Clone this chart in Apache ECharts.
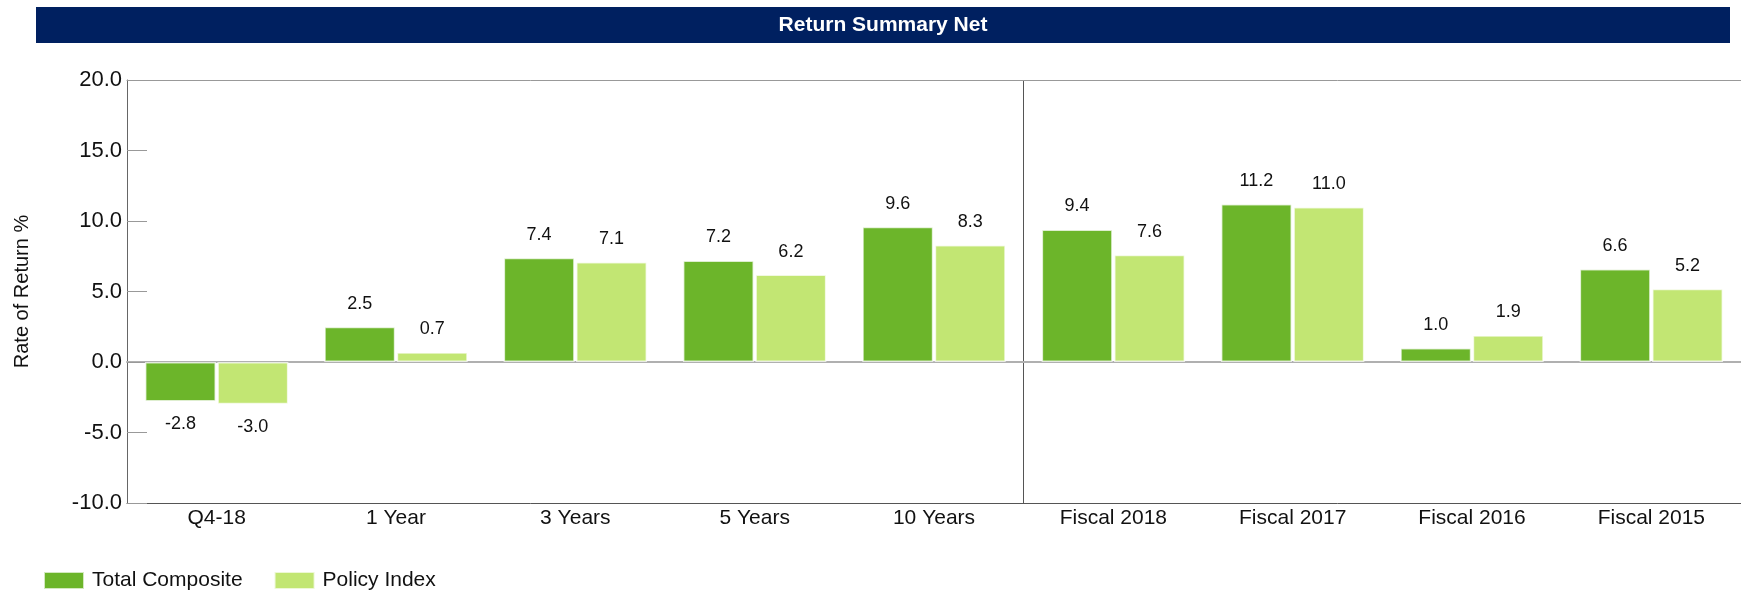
<!DOCTYPE html>
<html>
<head>
<meta charset="utf-8">
<script src="https://cdn.jsdelivr.net/npm/echarts@6/dist/echarts.min.js"></script>
<style>
html,body{margin:0;padding:0;background:#fff;}
#chart{width:1741px;height:593px;}
</style>
</head>
<body>
<div id="chart"></div>
<script>
const categories = ['Q4-18', '1 Year', '3 Years', '5 Years', '10 Years', 'Fiscal 2018', 'Fiscal 2017', 'Fiscal 2016', 'Fiscal 2015'];
const totalComposite = [-2.8, 2.5, 7.4, 7.2, 9.6, 9.4, 11.2, 1.0, 6.6];
const policyIndex = [-3.0, 0.7, 7.1, 6.2, 8.3, 7.6, 11.0, 1.9, 5.2];
const seriesNames = ['Total Composite', 'Policy Index'];
const titleText = 'Return Summary Net';
const yAxisName = 'Rate of Return %';
// separator drawn between the trailing-period group (first 5) and fiscal-year group
const separatorGroupSize = 5;

const FONT = "'Liberation Sans', Arial, sans-serif";
const chart = echarts.init(document.getElementById('chart'));

const labelCfg = {
  show: true,
  position: 'outside',
  distance: 14,
  fontFamily: FONT,
  fontSize: 18,
  color: '#111',
  formatter: p => p.value.toFixed(1)
};

chart.setOption({
  animation: false,
  backgroundColor: '#fff',
  graphic: [
    { type: 'rect', shape: { x: 36, y: 7, width: 1694, height: 36 }, style: { fill: '#002060' }, z: 10 },
    { type: 'text', x: 883, y: 25, style: { text: titleText, fill: '#fff', font: "bold 21px 'Liberation Sans', Arial, sans-serif", textAlign: 'center', textVerticalAlign: 'middle' }, z: 11 }
  ],
  legend: {
    left: 43,
    top: 570,
    padding: 0,
    itemWidth: 40,
    itemHeight: 17,
    itemGap: 31,
    icon: 'rect',
    textStyle: { fontFamily: FONT, fontSize: 21, color: '#111', padding: [0, 0, 0, 3] },
    data: seriesNames
  },
  grid: { left: 127, top: 80, width: 1620, height: 423 },
  xAxis: [
    {
      type: 'category',
      data: categories,
      position: 'bottom',
      axisLine: { onZero: false, lineStyle: { color: '#555', width: 1 } },
      axisTick: { show: false },
      axisLabel: { fontFamily: FONT, fontSize: 21, color: '#111', margin: 5 },
      splitLine: { show: false }
    },
    {
      type: 'category',
      data: categories,
      position: 'top',
      axisLine: { onZero: false, lineStyle: { color: '#999', width: 1 } },
      axisTick: { show: false },
      axisLabel: { show: false },
      splitLine: { show: false }
    },
    {
      type: 'category',
      data: categories,
      axisLine: { onZero: true, lineStyle: { color: '#b0b0b0', width: 2 } },
      axisTick: { show: false },
      axisLabel: { show: false },
      splitLine: { show: false }
    },
    {
      type: 'value',
      min: 0,
      max: categories.length,
      interval: separatorGroupSize,
      show: true,
      position: 'bottom',
      axisLine: { show: false, onZero: false },
      axisTick: { show: false },
      axisLabel: { show: false },
      splitLine: { show: true, lineStyle: { color: '#555', width: 1 } }
    }
  ],
  yAxis: {
    type: 'value',
    min: -10,
    max: 20,
    interval: 5,
    name: yAxisName,
    nameLocation: 'middle',
    nameRotate: 90,
    nameGap: 95,
    nameTextStyle: { fontFamily: FONT, fontSize: 20, color: '#111' },
    axisLine: { show: true, lineStyle: { color: '#666', width: 1 } },
    axisTick: { show: true, inside: true, length: 20, lineStyle: { color: '#999', width: 1 } },
    axisLabel: { fontFamily: FONT, fontSize: 22, color: '#111', margin: 5, formatter: v => v.toFixed(1) },
    splitLine: { show: false }
  },
  series: [
    {
      name: seriesNames[0],
      type: 'bar',
      data: totalComposite,
      barWidth: 71,
      barGap: '2%',
      itemStyle: { color: '#6CB52A', borderColor: 'rgba(255,255,255,0.7)', borderWidth: 1.5 },
      label: labelCfg
    },
    {
      name: seriesNames[1],
      type: 'bar',
      data: policyIndex,
      barWidth: 71,
      barGap: '2%',
      itemStyle: { color: '#C2E673', borderColor: 'rgba(255,255,255,0.7)', borderWidth: 1.5 },
      label: labelCfg
    }
  ]
});
</script>
</body>
</html>
